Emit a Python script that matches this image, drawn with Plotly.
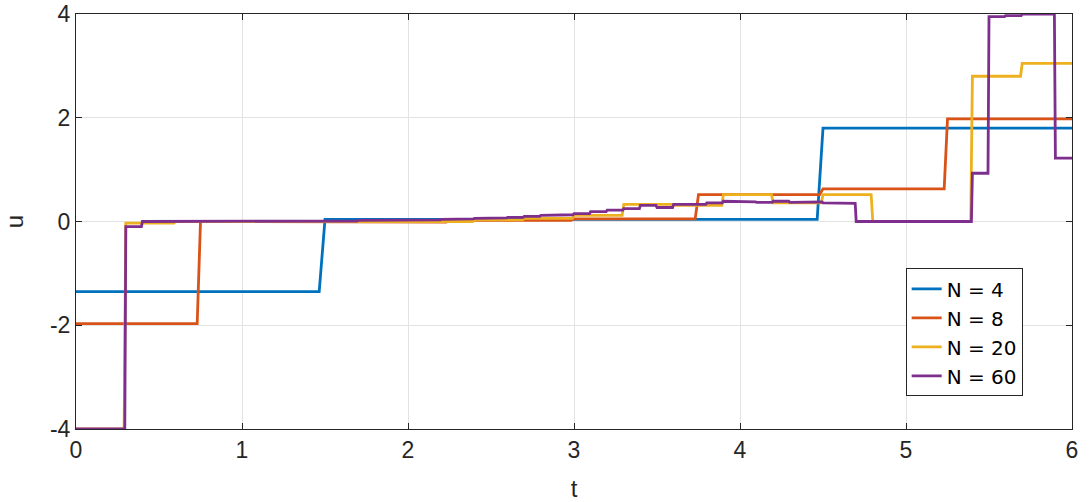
import plotly.graph_objects as go

T_END = 6.0

# Piecewise-constant control values on uniform intervals over [0, 6]
u_N4 = [-1.35, 0.04, 0.04, 1.80]
u_N8 = [-1.97, 0.00, -0.01, 0.02, 0.05, 0.52, 0.63, 1.98]
u_N20 = [-4.0, -0.03, 0.0, 0.0, 0.0, 0.0, 0.0, 0.0, 0.03, 0.06,
         0.12, 0.33, 0.31, 0.52, 0.36, 0.52, 0.0, 0.0, 2.80, 3.05]
u_N60 = [-4.0, -4.0, -4.0, -0.10, 0.0, 0.0, 0.0, 0.0, 0.0, 0.0,
         0.0, 0.0, 0.0, 0.0, 0.0, 0.01, 0.01, 0.02, 0.02, 0.02,
         0.02, 0.03, 0.04, 0.05, 0.06, 0.07, 0.08, 0.10, 0.12, 0.13,
         0.15, 0.19, 0.22, 0.25, 0.31, 0.27, 0.33, 0.33, 0.36, 0.39,
         0.38, 0.37, 0.39, 0.37, 0.38, 0.36, 0.35, 0.0, 0.0, 0.0,
         0.0, 0.0, 0.0, 0.0, 0.93, 3.95, 3.97, 4.00, 4.00, 1.22]

series_names = ["N = 4", "N = 8", "N = 20", "N = 60"]
series_values = [u_N4, u_N8, u_N20, u_N60]
colors = ["#0072BD", "#D95319", "#EDB120", "#7E2F8E"]
ramps = [0.035, 0.02, 0.01, 0.006]

x_ticks = [0, 1, 2, 3, 4, 5, 6]
y_ticks = [-4, -2, 0, 2, 4]

FONT = "Liberation Sans, Arial, sans-serif"
LEGEND_FONT = "DejaVu Sans, Liberation Sans, sans-serif"


def staircase(vals, ramp):
    n = len(vals)
    h = T_END / n
    xs, ys = [], []
    for k, v in enumerate(vals):
        t0 = k * h
        t1 = (k + 1) * h
        xs.append(t0)
        ys.append(v)
        xs.append(t1 - ramp if k < n - 1 else t1)
        ys.append(v)
    return xs, ys


fig = go.Figure()
for name, vals, col, rp in zip(series_names, series_values, colors, ramps):
    xs, ys = staircase(vals, rp)
    fig.add_trace(go.Scatter(x=xs, y=ys, mode="lines", name=name,
                             line=dict(color=col, width=2.8)))

axis_common = dict(
    showgrid=True, gridcolor="#e3e3e3", gridwidth=1,
    showline=True, linecolor="#262626", linewidth=1, mirror="ticks",
    ticks="inside", ticklen=6, tickcolor="#262626",
    zeroline=False, automargin=False,
    tickfont=dict(family=FONT, size=23, color="#262626"),
)

fig.update_xaxes(range=[0, 6], tickvals=x_ticks, ticktext=[str(v) for v in x_ticks],
                 title=dict(text="t", font=dict(family=FONT, size=24, color="#262626"), standoff=19),
                 **axis_common)
fig.update_yaxes(range=[-4, 4], tickvals=y_ticks, ticktext=[str(v) for v in y_ticks],
                 title=dict(text="u", font=dict(family=FONT, size=24, color="#262626"), standoff=19),
                 **axis_common)

fig.update_layout(
    width=1089, height=502,
    margin=dict(l=76, r=17, t=14, b=73),
    plot_bgcolor="white", paper_bgcolor="white",
    legend=dict(x=0.833, y=0.387, xanchor="left", yanchor="top",
                bgcolor="white", bordercolor="#262626", borderwidth=1,
                font=dict(family=LEGEND_FONT, size=20, color="#000000"),
                tracegroupgap=0),
    showlegend=True,
)

fig.write_html("out.html")
